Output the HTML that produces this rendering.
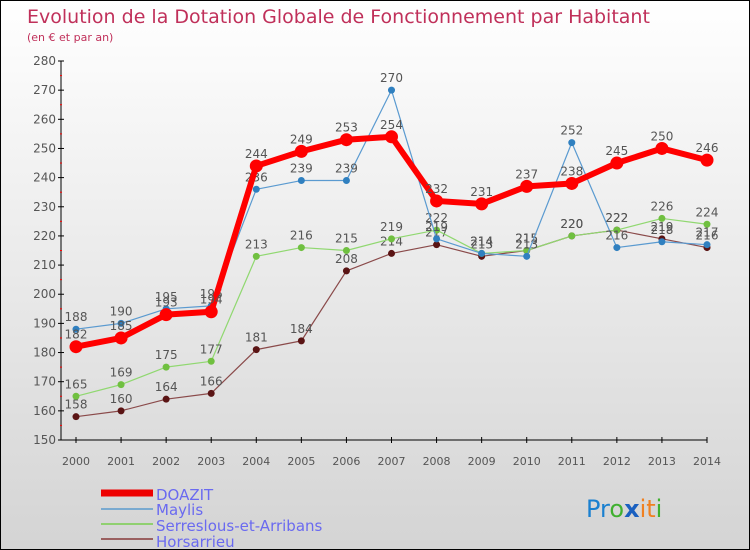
<!DOCTYPE html>
<html><head><meta charset="utf-8"><style>
body{margin:0}
#c{width:748px;height:548px;border:1px solid #000;background:linear-gradient(#fff,#d4d4d4);position:relative;font-family:"DejaVu Sans","Liberation Sans",sans-serif;overflow:hidden}
</style></head><body>
<div id="c">
<svg id="s" width="748" height="548" xmlns="http://www.w3.org/2000/svg" font-family="DejaVu Sans, Liberation Sans, sans-serif">
<text x="26" y="22" font-size="19" fill="#c0305a">Evolution de la Dotation Globale de Fonctionnement par Habitant</text>
<text x="26" y="40" font-size="11" fill="#c0305a">(en € et par an)</text>
<g id="axes"></g><g id="series"></g>
<g>
<line x1="100" y1="492" x2="152" y2="492" stroke="#e00" stroke-width="7"/>
<text x="155" y="499" font-size="15" fill="#6a6af0">DOAZIT</text>
<line x1="100" y1="508" x2="152" y2="508" stroke="#7aaad0" stroke-width="2"/>
<text x="155" y="514" font-size="15" fill="#6a6af0">Maylis</text>
<line x1="100" y1="523" x2="152" y2="523" stroke="#90d070" stroke-width="2"/>
<text x="155" y="530" font-size="15" fill="#6a6af0">Serreslous-et-Arribans</text>
<line x1="100" y1="538" x2="152" y2="538" stroke="#9a6060" stroke-width="2"/>
<text x="155" y="546" font-size="15" fill="#6a6af0">Horsarrieu</text>
</g>
<text x="585" y="516" font-size="24" font-family="DejaVu Sans"><tspan fill="#1a80d0">Pr</tspan><tspan fill="#40b030">o</tspan><tspan fill="#1a60c0" font-weight="bold">x</tspan><tspan fill="#f08020">it</tspan><tspan fill="#40b030">i</tspan></text>
</svg></div>
<script>
const years=[2000,2001,2002,2003,2004,2005,2006,2007,2008,2009,2010,2011,2012,2013,2014];
const yTicks=[150,160,170,180,190,200,210,220,230,240,250,260,270,280];
const doazit=[182,185,193,194,244,249,253,254,232,231,237,238,245,250,246];
const maylis=[188,190,195,196,236,239,239,270,219,214,213,252,216,218,217];
const serreslous=[165,169,175,177,213,216,215,219,222,214,215,220,222,226,224];
const horsarrieu=[158,160,164,166,181,184,208,214,217,213,215,220,222,219,216];
const NS="http://www.w3.org/2000/svg";
const X=i=>75+i*(631/14);
const Y=v=>439-(v-150)*(379/130);
function mk(t,a,p){const e=document.createElementNS(NS,t);for(const k in a)e.setAttribute(k,a[k]);p.appendChild(e);return e;}
const ax=document.getElementById('axes');
let yl=mk('line',{x1:60,y1:Y(150),x2:60,y2:Y(280),stroke:'#000'},ax);


let xl=mk('line',{x1:60,y1:Y(150),x2:706,y2:Y(150),stroke:'#000'},ax);


yTicks.forEach((v,i)=>{
  mk('line',{x1:57,y1:Y(v),x2:63,y2:Y(v),stroke:'#000'},ax);
  if(i<yTicks.length-1)mk('line',{x1:59,y1:Y(v+5),x2:61,y2:Y(v+5),stroke:'#f00'},ax);
  const t=mk('text',{x:55,y:Y(v)+4,'font-size':12,fill:'#555','text-anchor':'end'},ax);t.textContent=v;
  
  
});
years.forEach((y,i)=>{
  mk('line',{x1:X(i),y1:Y(150)-3,x2:X(i),y2:Y(150)+3,stroke:'#000'},ax);
  const t=mk('text',{x:X(i),y:Y(150)+25,'font-size':11,fill:'#555','text-anchor':'middle'},ax);t.textContent=y;
  
  
});
const sg=document.getElementById('series');
function draw(data,color,w,r,dot,name){
  const g=mk('g',{},sg);
  
  
  mk('polyline',{points:data.map((v,i)=>X(i)+','+Y(v)).join(' '),fill:'none',stroke:color,'stroke-width':w,'stroke-linejoin':'round'},g);
  data.forEach((v,i)=>{
    const c=mk('circle',{cx:X(i),cy:Y(v),r:r,fill:dot},g);
    
    
    const t=mk('text',{x:X(i),y:Y(v)-8,'font-size':12,fill:'#555','text-anchor':'middle'},g);t.textContent=v;
  });
}
draw(horsarrieu,'#8a4a4a',1.2,3.5,'#5a1414','series-horsarrieu');
draw(serreslous,'#90d870',1.2,3.5,'#70c040','series-serreslous');
draw(maylis,'#5a9ad0',1.2,3.5,'#3080c0','series-maylis');
draw(doazit,'#f00',6,6.5,'#f00','series-doazit');
</script>
</body></html>
